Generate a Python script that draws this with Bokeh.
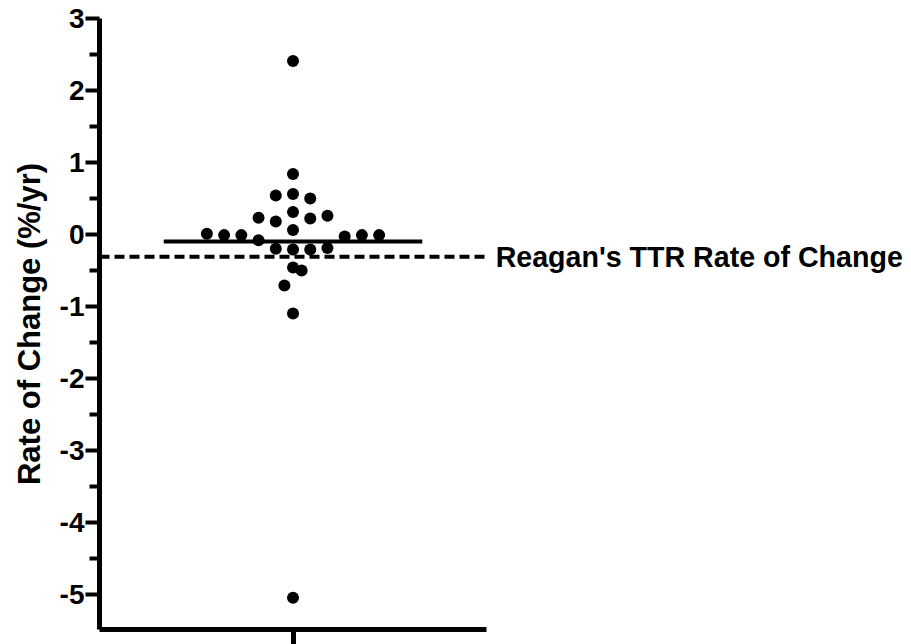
import numpy as np
from bokeh.plotting import figure
from bokeh.models import FixedTicker, Range1d, ColumnDataSource, Label
from bokeh.embed import file_html
from bokeh.resources import INLINE

# ---- data ----
rates = [2.41, 0.84, 0.54, 0.56, 0.50, 0.23, 0.18, 0.31, 0.22, 0.26, 0.06,
         0.01, -0.01, -0.01, -0.08, -0.03, -0.01, -0.01,
         -0.20, -0.21, -0.21, -0.19, -0.46, -0.50, -0.71, -1.10, -5.05]
swarm_col = [0, 0, -1, 0, 1, -2, -1, 0, 1, 2, 0,
             -5, -4, -3, -2, 3, 4, 5,
             -1, 0, 1, 2, 0, 0.5, -0.5, 0, 0]
reagan_rate = -0.31
reference_label = "Reagan's TTR Rate of Change"
y_label = "Rate of Change (%/yr)"
y_ticks = [-5, -4, -3, -2, -1, 0, 1, 2, 3]
y_tick_labels = ["-5", "-4", "-3", "-2", "-1", "0", "1", "2", "3"]
y_minor = [-5.5, -4.5, -3.5, -2.5, -1.5, -0.5, 0.5, 1.5, 2.5]

# ---- styling / layout constants ----
FONT = "Liberation Sans"
COL_W = 0.089        # beeswarm column spacing (x units)
MEAN_HALF = 0.668    # half width of the mean bar (x units)

xs = [c * COL_W for c in swarm_col]
src = ColumnDataSource(dict(x=xs, y=rates))
mean_val = float(np.mean(rates))

p = figure(width=911, height=644, output_backend="svg", toolbar_location=None,
           x_range=Range1d(-1.0, 3.196), y_range=Range1d(-5.49, 3.0),
           min_border_left=99, min_border_right=0, min_border_top=18,
           min_border_bottom=15)
p.background_fill_color = "white"
p.border_fill_color = "white"
p.outline_line_color = None
p.xgrid.visible = False
p.ygrid.visible = False

# y axis
ya = p.yaxis[0]
ya.ticker = FixedTicker(ticks=y_ticks, minor_ticks=y_minor)
ya.major_label_overrides = {t: s for t, s in zip(y_ticks, y_tick_labels)}
ya.axis_line_width = 5
ya.axis_line_color = "black"
ya.major_tick_line_width = 4
ya.minor_tick_line_width = 4
ya.major_tick_out = 14
ya.major_tick_in = 0
ya.minor_tick_out = 10
ya.minor_tick_in = 0
ya.major_label_standoff = 1
ya.major_label_text_font = FONT
ya.major_label_text_font_style = "bold"
ya.major_label_text_font_size = "28px"
ya.major_label_text_color = "black"
ya.axis_label = y_label
ya.axis_label_text_font = FONT
ya.axis_label_text_font_style = "bold"
ya.axis_label_text_font_size = "31px"
ya.axis_label_text_color = "black"
ya.axis_label_standoff = 10

# x axis (single unlabeled category tick)
xa = p.xaxis[0]
xa.ticker = FixedTicker(ticks=[0], minor_ticks=[])
xa.major_label_overrides = {0: ""}
xa.bounds = (-1.0, 1.0)
xa.axis_line_width = 5
xa.axis_line_color = "black"
xa.major_tick_line_width = 5
xa.major_tick_out = 15
xa.major_tick_in = 0
xa.minor_tick_line_color = None
xa.major_label_text_font_size = "10px"
xa.major_label_standoff = 0

# reference dashed line
p.line(x=[-1.0, 1.0], y=[reagan_rate, reagan_rate], line_color="black",
       line_width=4, line_dash="10 5")
# mean bar
p.line(x=[-MEAN_HALF, MEAN_HALF], y=[mean_val, mean_val], line_color="black",
       line_width=4)
# points
p.scatter(x="x", y="y", source=src, size=12, fill_color="black",
          line_color="black", line_width=0)

p.add_layout(Label(x=1.047, y=reagan_rate, text=reference_label,
                   text_font=FONT, text_font_style="bold",
                   text_font_size="28.6px", text_baseline="middle",
                   text_color="black"))

open("out.html", "w").write(file_html(p, INLINE))
